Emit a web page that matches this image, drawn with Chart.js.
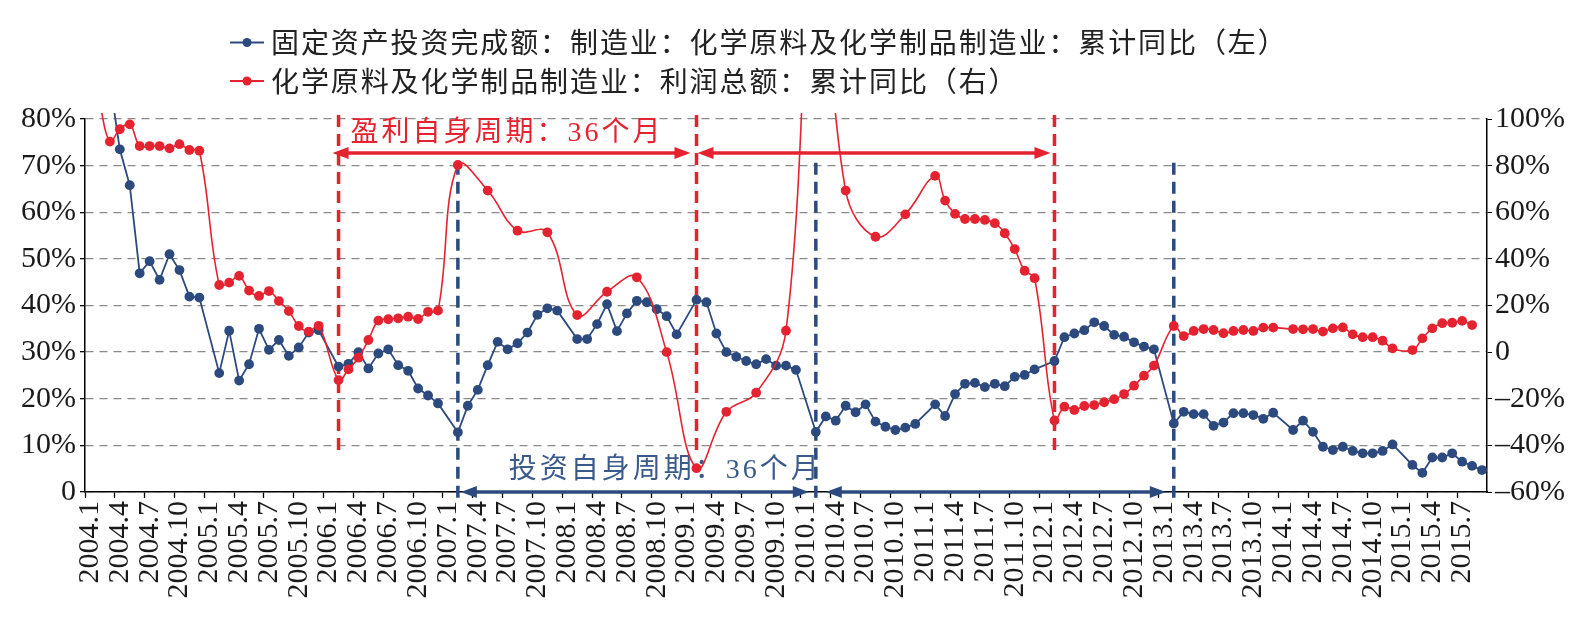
<!DOCTYPE html>
<html>
<head>
<meta charset="utf-8">
<script src="https://cdn.jsdelivr.net/npm/chart.js@4.4.0/dist/chart.umd.min.js"></script>
<style>
  html, body { margin: 0; padding: 0; background: #fff; }
  #wrap { width: 1586px; height: 633px; }
</style>
</head>
<body>
<div id="wrap"><canvas id="chart" width="1586" height="633"></canvas></div>
<script>
// months 2004.1 .. 2015.9
const startYear = 2004
const lastYear = 2015
const lastMonth = 9

// 固定资产投资完成额：制造业：化学原料及化学制品制造业：累计同比 (left axis, %)
const investYoY = [
  null, null, 88, 73.5, 65.8, 46.9, 49.5, 45.5, 51.0, 47.6, 41.9, 41.7,
  null, 25.5, 34.6, 23.9, 27.4, 35.0, 30.5, 32.6, 29.2, 31.0, 34.2, 34.7,
  null, 26.9, 27.5, 30.0, 26.5, 29.7, 30.6, 27.2, 26.0, 22.2, 20.7, 19.0,
  null, 12.8, 18.5, 21.9, 27.2, 32.2, 30.6, 31.9, 34.2, 38.0, 39.4, 38.9,
  null, 32.8, 32.8, 36.0, 40.3, 34.5, 38.3, 41.0, 40.7, 39.2, 37.7, 33.8,
  null, 41.2, 40.7, 34.0, 30.0, 29.0, 28.1, 27.4, 28.5, 27.1, 27.1, 26.2,
  null, 12.9, 16.2, 15.3, 18.5, 17.1, 18.8, 15.1, 14.0, 13.3, 13.8, 14.6,
  null, 18.8, 16.3, 21.0, 23.2, 23.4, 22.5, 23.2, 22.7, 24.7, 25.1, 26.3,
  null, 28.1, 33.2, 34.0, 34.7, 36.4, 35.6, 33.7, 33.3, 32.1, 31.2, 30.6,
  null, 14.7, 17.2, 16.7, 16.7, 14.2, 14.9, 16.9, 16.9, 16.5, 15.7, 17.0,
  null, 13.3, 15.3, 12.9, 9.7, 9.0, 9.7, 8.8, 8.3, 8.3, 8.8, 10.2,
  null, 5.8, 4.1, 7.4, 7.4, 8.3, 6.5, 5.6, 4.7
]

// 化学原料及化学制品制造业：利润总额：累计同比 (right axis, %)
const profitYoY = [
  null, 106, 90.3, 95.6, 97.7, 88.4, 88.4, 88.4, 87.4, 89.2, 86.7, 86.4,
  null, 28.8, 29.8, 32.7, 26.4, 24.1, 26.2, 21.9, 17.6, 11.2, 8.8, 11.3,
  null, -12.0, -7.4, -2.4, 5.2, 13.5, 14.1, 14.5, 15.2, 14.2, 17.3, 17.8,
  null, 80.3, null, null, 69.3, null, null, 52.1, null, null, 51.4, null,
  null, 15.9, null, null, 25.9, null, null, 32.1, null, null, 0.0, null,
  null, -49.8, null, null, -25.6, null, null, -17.4, null, null, 9.2, null,
  null, 190, null, null, 69.3, null, null, 49.5, null, null, 59.1, null,
  null, 75.6, 65.0, 59.3, 57.1, 57.1, 56.7, 55.3, 51.0, 44.2, 34.9, 31.7,
  null, -29.3, -23.4, -24.8, -23.1, -22.7, -21.5, -20.2, -18.0, -14.4, -10.1, -5.8,
  null, 11.2, 6.9, 9.1, 9.9, 9.5, 8.1, 9.1, 9.5, 9.1, 10.5, 10.5,
  null, 9.9, 9.8, 9.9, 8.8, 10.2, 10.6, 7.6, 6.4, 6.4, 4.9, 1.6,
  null, 0.9, 5.9, 10.2, 12.4, 12.6, 13.4, 11.6, null
]

const leftTickLabels = ['0', '10%', '20%', '30%', '40%', '50%', '60%', '70%', '80%']
const rightTickLabels = ['–60%', '–40%', '–20%', '0', '20%', '40%', '60%', '80%', '100%']

const seriesNames = [
  '固定资产投资完成额：制造业：化学原料及化学制品制造业：累计同比（左）',
  '化学原料及化学制品制造业：利润总额：累计同比（右）'
]

// cycle markers (months) and captions
const profitMarks = ['2006.2', '2009.2', '2012.2']
const investMarks = ['2007.2', '2010.2', '2013.2']
const profitCaption = '盈利自身周期：36个月'
const investCaption = '投资自身周期：36个月'

const monthLabels = []
for (let y = startYear; y <= lastYear; y++) {
  for (let m = 1; m <= 12; m++) {
    if (y === lastYear && m > lastMonth) break
    monthLabels.push(y + '.' + m)
  }
}

const BLUE = '#2c4a7e'
const RED = '#e52330'
const SERIF = "'Liberation Serif', 'Times New Roman', 'Noto Sans CJK SC', serif"
const CJK = "'Noto Sans CJK SC', 'Liberation Serif', sans-serif"

function drawArrow(ctx, x1, x2, yy, color) {
  const head = 16, half = 6
  ctx.strokeStyle = color
  ctx.fillStyle = color
  ctx.lineWidth = 3.5
  ctx.setLineDash([])
  ctx.beginPath()
  ctx.moveTo(x1 + head - 2, yy)
  ctx.lineTo(x2 - head + 2, yy)
  ctx.stroke()
  ctx.beginPath()
  ctx.moveTo(x1, yy); ctx.lineTo(x1 + head, yy - half); ctx.lineTo(x1 + head, yy + half)
  ctx.closePath(); ctx.fill()
  ctx.beginPath()
  ctx.moveTo(x2, yy); ctx.lineTo(x2 - head, yy - half); ctx.lineTo(x2 - head, yy + half)
  ctx.closePath(); ctx.fill()
}

const cycleMarks = {
  id: 'cycleMarks',
  beforeDatasetsDraw(chart) {
    const { ctx, chartArea: area, scales: { x, y } } = chart
    const px = lbl => x.getPixelForValue(monthLabels.indexOf(lbl))
    ctx.save()

    // vertical dashed markers
    ctx.lineWidth = 3.5
    ctx.setLineDash([12, 7])
    ctx.strokeStyle = RED
    for (const m of profitMarks) {
      ctx.beginPath()
      ctx.moveTo(px(m), area.top - 4)
      ctx.lineTo(px(m), y.getPixelForValue(8.4))
      ctx.stroke()
    }
    ctx.strokeStyle = BLUE
    for (const m of investMarks) {
      ctx.beginPath()
      ctx.moveTo(px(m), y.getPixelForValue(70.6))
      ctx.lineTo(px(m), area.bottom + 6)
      ctx.stroke()
    }

    // arrows
    const ry = y.getPixelForValue(72.7)
    drawArrow(ctx, px(profitMarks[0]) - 6, px(profitMarks[1]) - 6, ry, RED)
    drawArrow(ctx, px(profitMarks[1]) + 1, px(profitMarks[2]) - 4, ry, RED)
    const by = area.bottom
    drawArrow(ctx, px(investMarks[0]) + 3, px(investMarks[1]) - 7, by, BLUE)
    drawArrow(ctx, px(investMarks[1]) + 10, px(investMarks[2]) - 8, by, BLUE)

    // captions
    ctx.font = '28px ' + SERIF
    ctx.letterSpacing = '3px'
    ctx.textBaseline = 'middle'
    ctx.textAlign = 'left'
    ctx.fillStyle = RED
    ctx.fillText(profitCaption, px(profitMarks[0]) + 12, y.getPixelForValue(76.8))
    ctx.fillStyle = '#3a5a8c'
    ctx.fillText(investCaption, px(investMarks[0]) + 51, y.getPixelForValue(4.5))
    ctx.restore()
  },
  afterDraw(chart) {
    // two-row legend, left aligned
    const { ctx } = chart
    const rows = [42.5, 81]
    ctx.save()
    chart.data.datasets.forEach((ds, i) => {
      const yy = rows[i]
      ctx.strokeStyle = ds.borderColor
      ctx.fillStyle = ds.borderColor
      ctx.lineWidth = 1.8
      ctx.beginPath(); ctx.moveTo(230, yy); ctx.lineTo(264, yy); ctx.stroke()
      ctx.beginPath(); ctx.arc(247, yy, 4.5, 0, Math.PI * 2); ctx.fill()
      ctx.fillStyle = '#222'
      ctx.font = '28px ' + CJK
      ctx.letterSpacing = '1.9px'
      ctx.textBaseline = 'middle'
      ctx.fillText(ds.label, 271, yy)
    })
    ctx.restore()
  }
}

const clipArea = { left: 0, top: 6, right: 0, bottom: 0 }

new Chart(document.getElementById('chart'), {
  type: 'line',
  data: {
    labels: monthLabels,
    datasets: [
      { label: seriesNames[0], data: investYoY, yAxisID: 'y', borderColor: BLUE, backgroundColor: BLUE,
        borderWidth: 1.8, pointRadius: 4.9, pointHoverRadius: 4.9, pointBorderWidth: 0,
        tension: 0, spanGaps: true, clip: clipArea, order: 1 },
      { label: seriesNames[1], data: profitYoY, yAxisID: 'y1', borderColor: RED, backgroundColor: RED,
        borderWidth: 1.6, pointRadius: 4.9, pointHoverRadius: 4.9, pointBorderWidth: 0,
        tension: 0.4, spanGaps: true, clip: clipArea, order: 0 }
    ]
  },
  options: {
    responsive: false,
    animation: false,
    layout: { padding: { top: 119, left: 0, right: 0, bottom: 0 } },
    plugins: { legend: { display: false }, tooltip: { enabled: false } },
    scales: {
      x: {
        offset: true,
        grid: { drawOnChartArea: false, offset: true, tickLength: 6, tickColor: '#000',
          tickWidth: c => (c.index % 3 === 0 ? 1.3 : 0) },
        border: { color: '#000', width: 1.5 },
        ticks: { autoSkip: false, maxRotation: 90, minRotation: 90, padding: 3, color: '#1a1a1a',
          font: { family: SERIF, size: 30 },
          callback: (v, i) => (i % 3 === 0 ? monthLabels[i] : '') },
        afterFit: s => { s.height = 141 }
      },
      y: {
        position: 'left', min: 0, max: 80,
        ticks: { stepSize: 10, padding: 4, color: '#1a1a1a', font: { family: SERIF, size: 30 },
          callback: (v, i) => leftTickLabels[i] },
        grid: { color: '#8a8a8a', lineWidth: 1.3, tickLength: 5, tickColor: '#000', tickBorderDash: [] },
        border: { color: '#000', width: 1.5, dash: [8, 6] },
        afterFit: s => { s.width = 85 }
      },
      y1: {
        position: 'right', min: -60, max: 100,
        ticks: { stepSize: 20, padding: 3, color: '#1a1a1a', font: { family: SERIF, size: 30 },
          callback: (v, i) => rightTickLabels[i] },
        grid: { drawOnChartArea: false, tickLength: 5, color: '#000' },
        border: { color: '#000', width: 1.5 },
        afterFit: s => { s.width = 99 }
      }
    }
  },
  plugins: [cycleMarks]
})
</script>
</body>
</html>
